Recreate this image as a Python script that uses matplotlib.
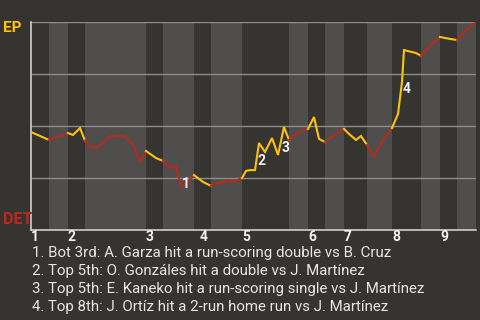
import matplotlib
matplotlib.use("Agg")
import matplotlib.pyplot as plt

# ---- data ----
# game progress (arbitrary play-progress units) and EP win probability (%)
progress = [0, 18, 37, 42, 49, 54, 59, 66, 73, 79, 92, 98, 103, 109, 115,
            125, 132, 138, 145, 150, 153, 163, 172, 180, 187, 193, 196, 202,
            211, 215, 219, 224, 228, 234, 241, 247, 253, 258, 266, 277, 283,
            288, 294, 303, 313, 317, 325, 330, 336, 343, 350, 361, 367, 371,
            373, 385, 390, 398, 409, 414, 426, 432, 445]
ep_wp = [47.1, 43.3, 46.6, 45.7, 49.0, 43.0, 39.9, 39.4, 42.3, 45.2, 45.2,
         43.3, 40.4, 32.7, 38.0, 34.6, 33.2, 29.8, 30.8, 21.2, 21.2, 26.4,
         23.1, 21.2, 22.6, 23.1, 24.0, 23.1, 25.0, 28.4, 28.8, 28.8, 41.8,
         37.5, 44.2, 36.1, 49.5, 43.3, 46.6, 48.6, 54.3, 43.8, 42.3, 45.7,
         48.6, 46.6, 43.3, 45.2, 40.9, 35.1, 41.8, 49.0, 55.8, 71.2, 86.5,
         85.1, 83.7, 88.0, 92.8, 92.3, 91.3, 94.7, 100.0]
# half-inning boundaries (top 1st, bot 1st, top 2nd, ...)
half_starts = [0, 18, 37, 54, 115, 132, 163, 180, 211, 258, 277, 294, 313,
               336, 361, 390, 409, 426]
game_end = 445
inning_labels = ["1", "2", "3", "4", "5", "6", "7", "8", "9"]
inning_label_pos = [4, 41, 119, 173, 215, 281, 317, 365, 413]
key_plays = ["1", "2", "3", "4"]
key_play_pos = [(155, 22.0), (231, 33.0), (255, 39.5), (376, 68.0)]
key_play_text = [
    "1. Bot 3rd: A. Garza hit a run-scoring double vs B. Cruz",
    "2. Top 5th: O. Gonzáles hit a double vs J. Martínez",
    "3. Top 5th: E. Kaneko hit a run-scoring single vs J. Martínez",
    "4. Top 8th: J. Ortíz hit a 2-run home run vs J. Martínez",
]
teams = ["EP", "DET"]

# ---- style ----
BG = "#363430"
BAND = "#4f4e4c"
YEL = "#fbc30f"
RED = "#b62a20"
plt.rcParams["font.family"] = ["Roboto", "DejaVu Sans"]

fig = plt.figure(figsize=(4.8, 3.2), dpi=100, facecolor=BG)
ax = fig.add_axes([31/480, 1-230/320, 445/480, 208/320])
ax.set_facecolor(BG)
ax.set_xlim(0, game_end)
ax.set_ylim(0, 100)

bounds = half_starts + [game_end]
for i in range(len(half_starts)):
    a, b = bounds[i], bounds[i+1]
    if i % 2 == 1:
        ax.axvspan(a, b, color=BAND, lw=0, zorder=0)
    xs = [x for x in progress if a <= x <= b]
    ys = [y for x, y in zip(progress, ep_wp) if a <= x <= b]
    ax.plot(xs, ys, color=YEL if i % 2 == 0 else RED, lw=1.5,
            solid_joinstyle="miter", zorder=3)

for g in [25, 50, 75, 100]:
    ax.axhline(g, color="#8e8d8b", lw=1.0, zorder=1)

for s in ["top", "right"]:
    ax.spines[s].set_visible(False)
for s in ["left", "bottom"]:
    ax.spines[s].set_color("#cfcfcf")
    ax.spines[s].set_linewidth(1.2)
ax.set_xticks([])
ax.set_yticks([])

for lab, pos in zip(inning_labels, inning_label_pos):
    ax.text(pos, -3.4, lab, ha="center", va="center", color="#f2f2f2",
            fontsize=10, fontweight="bold")

for lab, (px, py) in zip(key_plays, key_play_pos):
    ax.text(px, py, lab, ha="center", va="center", color="#f2f2f2",
            fontsize=10, fontweight="bold", zorder=4)

fig.text(3/480, 1-28/320, teams[0], ha="left", va="center", color=YEL,
         fontsize=11, fontweight="bold")
fig.text(3/480, 1-219.5/320, teams[1], ha="left", va="center", color=RED,
         fontsize=11.5, fontweight="bold")

for i, t in enumerate(key_play_text):
    fig.text(32/480, 1-(253 + 18*i)/320, t, ha="left", va="center",
             color="#e6e6e6", fontsize=10.8)

fig.savefig("out.png", dpi=100, facecolor=BG)
